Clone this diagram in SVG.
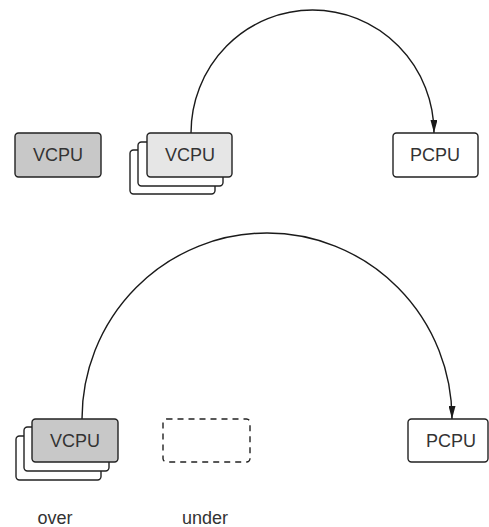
<svg xmlns="http://www.w3.org/2000/svg" width="489" height="527" viewBox="0 0 489 527">
  <defs>
    <marker id="head" viewBox="0 0 13 7" refX="13" refY="3.5" markerWidth="13" markerHeight="7" markerUnits="userSpaceOnUse" orient="auto">
      <path d="M0,0 L13,3.5 L0,7 Z" fill="#1a1a1a"/>
    </marker>
  </defs>
  <style>
    .box { stroke: #222; stroke-width: 1.4; fill: #fff; }
    .dark { fill: #c8c8c8; }
    .light { fill: #e6e6e6; }
    .dash { fill: none; stroke-dasharray: 6 5; }
    .lbl { font-family: "Liberation Sans", Arial, sans-serif; font-size: 18px; fill: #333; text-anchor: middle; }
    .conn { fill: none; stroke: #1a1a1a; stroke-width: 1.4; }
  </style>

  <rect width="489" height="527" fill="#fff"/>

  <!-- connectors -->
  <g id="connectors">
    <path class="conn" d="M191,133 A121.5,123 0 0 1 434,133" marker-end="url(#head)"/>
    <path class="conn" d="M82,419 A185,186 0 0 1 452,419" marker-end="url(#head)"/>
  </g>

  <!-- top row -->
  <g id="vcpu-idle">
    <rect class="box dark" x="15" y="133" width="86" height="44" rx="3.5"/>
    <text class="lbl" x="58" y="161">VCPU</text>
  </g>
  <g id="vcpu-stack-top">
    <rect class="box" x="130" y="150" width="85" height="44" rx="3.5"/>
    <rect class="box" x="138" y="142" width="85" height="44" rx="3.5"/>
    <rect class="box light" x="147" y="133" width="85" height="44" rx="3.5"/>
    <text class="lbl" x="190" y="161">VCPU</text>
  </g>
  <g id="pcpu-top">
    <rect class="box" x="393" y="133" width="85" height="44" rx="3.5"/>
    <text class="lbl" x="435" y="161">PCPU</text>
  </g>

  <!-- bottom row -->
  <g id="vcpu-stack-bottom">
    <rect class="box" x="16" y="436" width="85" height="44" rx="3.5"/>
    <rect class="box" x="24" y="427" width="85" height="44" rx="3.5"/>
    <rect class="box dark" x="32" y="419" width="86" height="43" rx="3.5"/>
    <text class="lbl" x="75" y="447">VCPU</text>
  </g>
  <g id="empty-slot">
    <rect class="box dash" x="163" y="419" width="87" height="43" rx="3.5"/>
  </g>
  <g id="pcpu-bottom">
    <rect class="box" x="408" y="419" width="80" height="43" rx="3.5"/>
    <text class="lbl" x="451" y="447">PCPU</text>
  </g>

  <!-- captions -->
  <g id="captions">
    <text class="lbl" x="55" y="524">over</text>
    <text class="lbl" x="205" y="524">under</text>
  </g>
</svg>
